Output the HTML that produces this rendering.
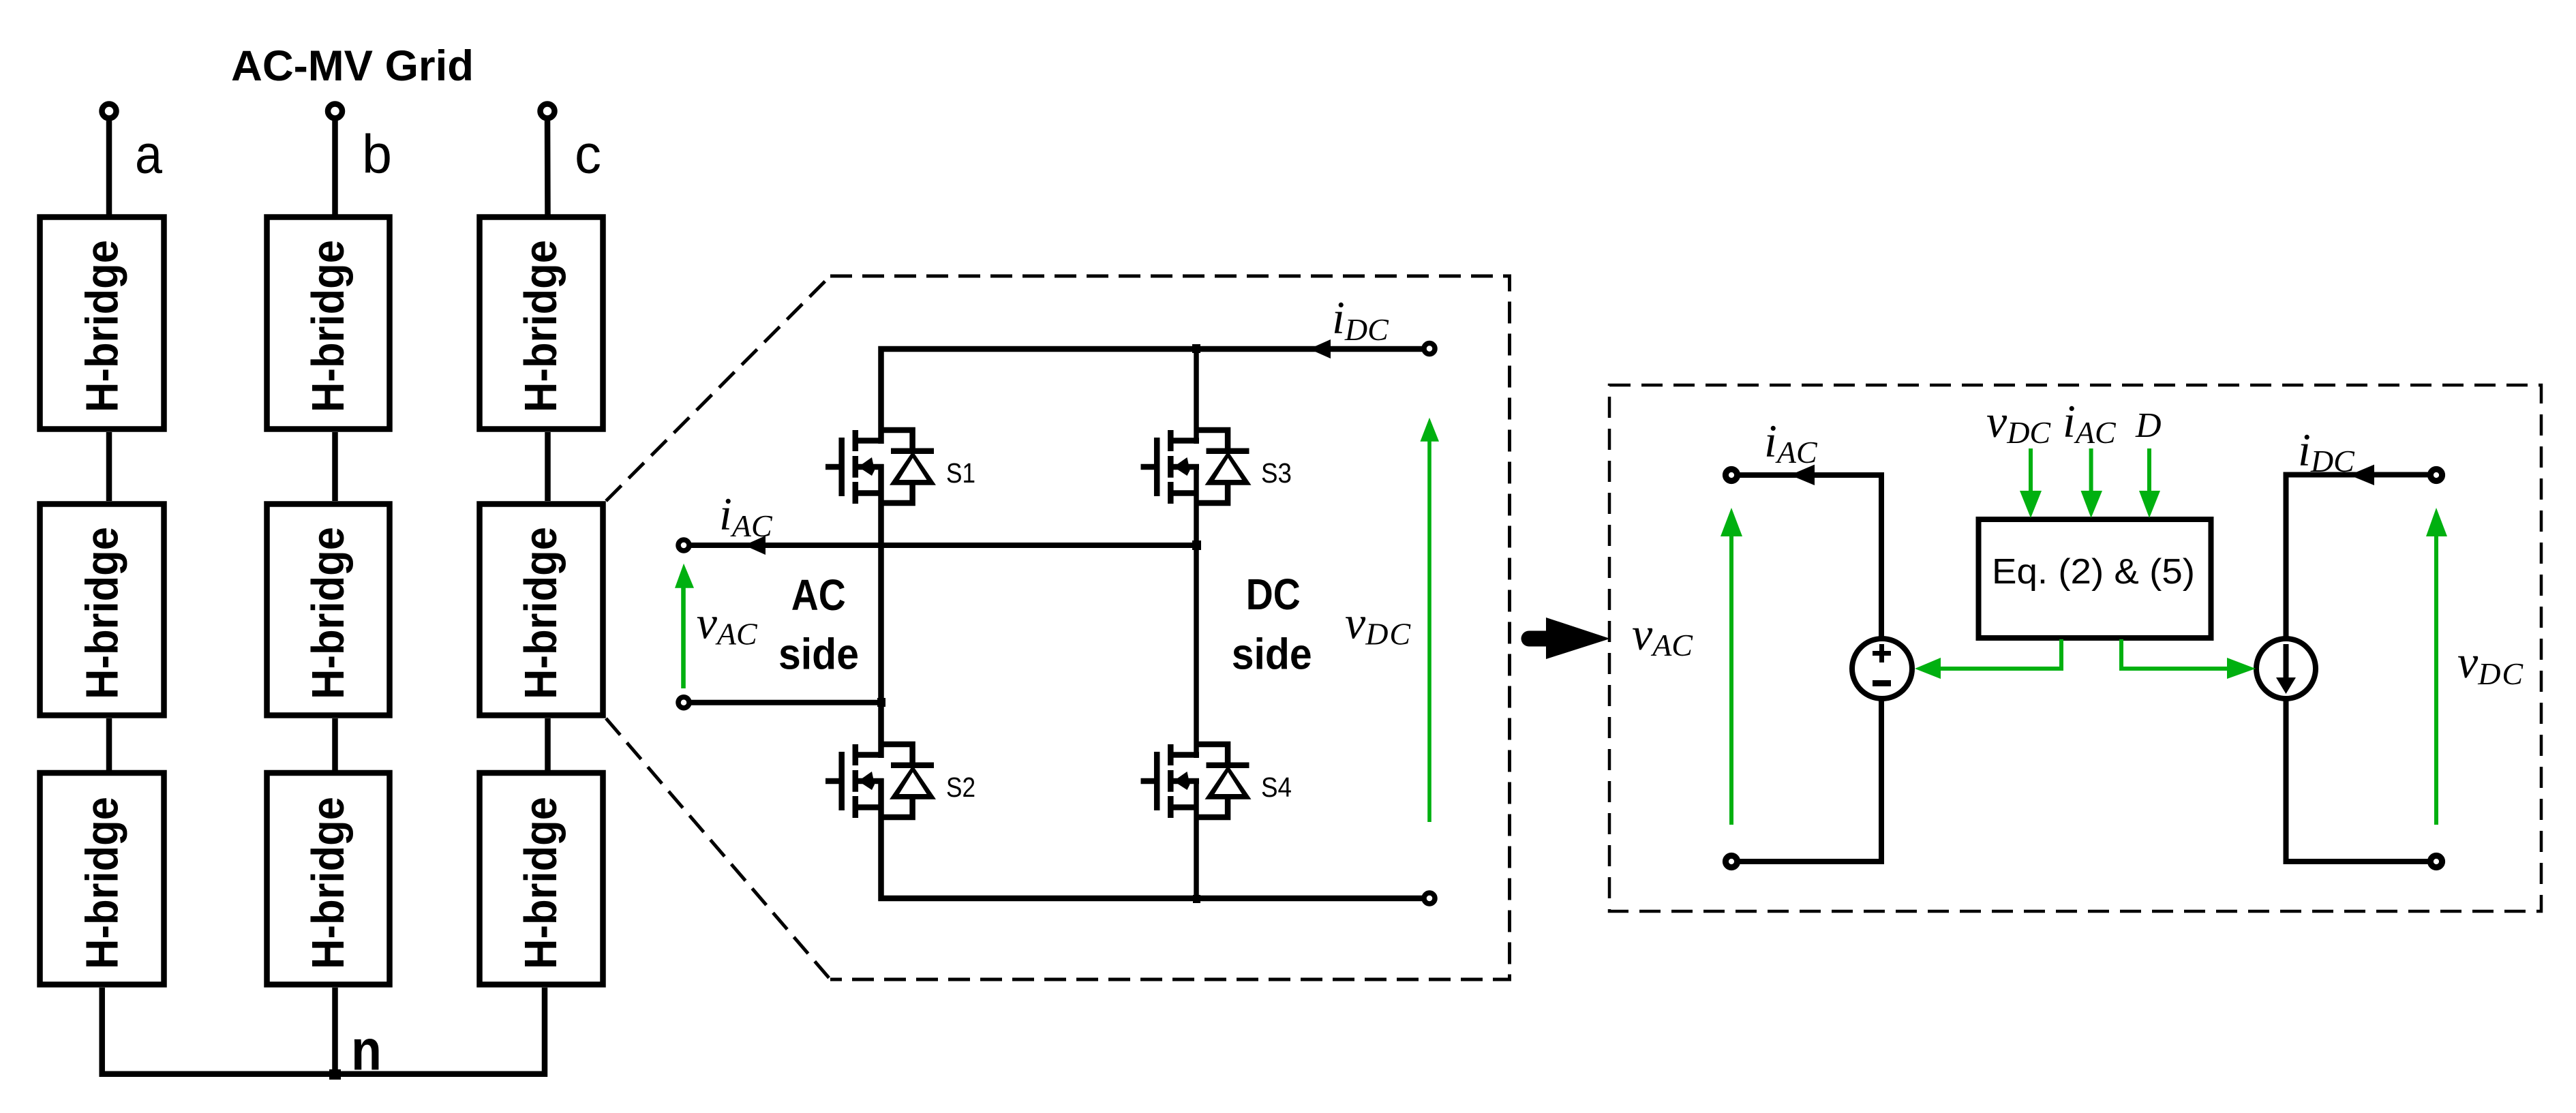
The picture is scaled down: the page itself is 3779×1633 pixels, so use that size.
<!DOCTYPE html>
<html>
<head>
<meta charset="utf-8">
<style>
html,body{margin:0;padding:0;background:#fff}
svg{display:block}
.s{font-family:"Liberation Sans",sans-serif}
.b{font-family:"Liberation Sans",sans-serif;font-weight:bold}
.m{font-family:"Liberation Serif",serif;font-style:italic;font-size:68px}
.m tspan{font-size:46px}
</style>
</head>
<body>
<svg xmlns="http://www.w3.org/2000/svg" width="3779" height="1633" viewBox="0 0 3779 1633">
<rect width="3779" height="1633" fill="#fff"/>
<defs>
<g id="mos" fill="none" stroke="#000" stroke-width="8.5">
  <path d="M1211 685H1231"/>
  <path d="M1234.7 642V728"/>
  <path d="M1254.8 631V662M1254.8 669V700.7M1254.8 707V739"/>
  <path d="M1259 646.5H1296.5M1259 685H1296.5M1259 723.5H1292"/>
  <path d="M1292.5 631H1338.6V660M1307 661.7H1370M1338.6 710V738H1292.5"/>
  <polygon points="1339,662 1305,711.7 1373,711.7" fill="#000" stroke="none"/>
  <polygon points="1339,672 1319,704 1359.5,704" fill="#fff" stroke="none"/>
  <polygon points="1259,685 1279,671 1283,690 1279,698" fill="#000" stroke="none"/>
</g>
</defs>

<!-- Left: H-bridge columns -->
<g fill="none" stroke="#000" stroke-width="8.5">
  <circle cx="160" cy="163" r="10.5"/><circle cx="491.5" cy="163" r="10.5"/><circle cx="803" cy="163" r="10.5"/>
  <path d="M160 173V318M491.5 173V318M803 173L803.5 318"/>
  <path d="M160 634V735M491.5 634V735M803.5 634V735"/>
  <path d="M160 1054V1130M491.5 1054V1130M803.5 1054V1130"/>
  <path d="M149.7 1449V1575.8H799V1449M491.5 1449V1575.8"/>
  <rect x="58.5" y="318.5" width="182" height="311"/>
  <rect x="391.5" y="318.5" width="180" height="311"/>
  <rect x="703.5" y="318.5" width="181" height="311"/>
  <rect x="58.5" y="739.5" width="182" height="310"/>
  <rect x="391.5" y="739.5" width="180" height="310"/>
  <rect x="703.5" y="739.5" width="181" height="310"/>
  <rect x="58.5" y="1134" width="182" height="310.5"/>
  <rect x="391.5" y="1134" width="180" height="310.5"/>
  <rect x="703.5" y="1134" width="181" height="310.5"/>
</g>
<rect x="483" y="1569" width="17" height="15" fill="#000"/>

<g class="b" font-size="67" fill="#000">
  <text transform="translate(172.7 478.5) rotate(-90)" x="-126.5" textLength="253" lengthAdjust="spacingAndGlyphs">H-bridge</text>
  <text transform="translate(504 478.5) rotate(-90)" x="-126.5" textLength="253" lengthAdjust="spacingAndGlyphs">H-bridge</text>
  <text transform="translate(816 478.5) rotate(-90)" x="-126.5" textLength="253" lengthAdjust="spacingAndGlyphs">H-bridge</text>
  <text transform="translate(172.7 899.5) rotate(-90)" x="-126.5" textLength="253" lengthAdjust="spacingAndGlyphs">H-bridge</text>
  <text transform="translate(504 899.5) rotate(-90)" x="-126.5" textLength="253" lengthAdjust="spacingAndGlyphs">H-bridge</text>
  <text transform="translate(816 899.5) rotate(-90)" x="-126.5" textLength="253" lengthAdjust="spacingAndGlyphs">H-bridge</text>
  <text transform="translate(172.7 1295.5) rotate(-90)" x="-126.5" textLength="253" lengthAdjust="spacingAndGlyphs">H-bridge</text>
  <text transform="translate(504 1295.5) rotate(-90)" x="-126.5" textLength="253" lengthAdjust="spacingAndGlyphs">H-bridge</text>
  <text transform="translate(816 1295.5) rotate(-90)" x="-126.5" textLength="253" lengthAdjust="spacingAndGlyphs">H-bridge</text>
</g>
<text class="b" x="339" y="118" font-size="63" textLength="356" lengthAdjust="spacingAndGlyphs">AC-MV Grid</text>
<text class="s" x="198" y="253.6" font-size="80" textLength="40" lengthAdjust="spacingAndGlyphs">a</text>
<text class="s" x="531" y="253.6" font-size="80" textLength="44" lengthAdjust="spacingAndGlyphs">b</text>
<text class="s" x="843" y="253.6" font-size="80" textLength="39" lengthAdjust="spacingAndGlyphs">c</text>
<text class="b" x="515" y="1569.4" font-size="84" textLength="45" lengthAdjust="spacingAndGlyphs">n</text>

<!-- Zoom dashed trapezoid -->
<g fill="none" stroke="#000" stroke-width="5" stroke-dasharray="32 15">
  <path d="M889 735L1218 405"/>
  <path d="M1218 405H2214.5V1437H1218"/>
  <path d="M889 1054L1218 1437"/>
</g>

<!-- Bridge wires -->
<g fill="none" stroke="#000">
  <path stroke-width="8.5" d="M1292.5 651V512H2097"/>
  <path stroke-width="8.5" d="M1292.5 681V1112M1292.5 1142V1318H2097"/>
  <path stroke-width="7.5" d="M1755 512V651M1755 681V1112M1755 1142V1318"/>
  <path stroke-width="8" d="M1003 800H1755M1003 1030.7H1293"/>
  <g stroke-width="7.5" fill="#fff">
    <circle cx="1003" cy="800" r="8"/>
    <circle cx="1003" cy="1030.7" r="8"/>
    <circle cx="2097" cy="511.5" r="8"/>
    <circle cx="2097" cy="1318" r="8"/>
  </g>
</g>
<g fill="#000">
  <rect x="1749" y="505" width="12" height="13"/>
  <rect x="1749" y="793" width="13" height="14"/>
  <rect x="1287" y="1024" width="12" height="13"/>
  <rect x="1750" y="1313" width="11" height="12"/>
  <polygon points="1091.6,800 1123,786 1123,814"/>
  <polygon points="1920.5,512 1952,498 1952,526"/>
</g>
<use href="#mos"/>
<use href="#mos" transform="translate(462.5 0)"/>
<use href="#mos" transform="translate(0 461)"/>
<use href="#mos" transform="translate(462.5 461)"/>
<g class="s" font-size="41" fill="#000">
  <text x="1388" y="708" textLength="43" lengthAdjust="spacingAndGlyphs">S1</text>
  <text x="1850" y="708" textLength="45" lengthAdjust="spacingAndGlyphs">S3</text>
  <text x="1388" y="1169" textLength="43" lengthAdjust="spacingAndGlyphs">S2</text>
  <text x="1850" y="1169" textLength="45" lengthAdjust="spacingAndGlyphs">S4</text>
</g>

<!-- Green voltage arrows in bridge -->
<g fill="#00b010" stroke="none">
  <rect x="999.2" y="860" width="6.6" height="150"/>
  <polygon points="1003,826.7 990,862.7 1018,862.7"/>
  <rect x="2094.2" y="645" width="5.6" height="561"/>
  <polygon points="2097,612.7 2083.5,647.7 2111,647.7"/>
</g>

<text class="b" x="1160.7" y="895" font-size="64" textLength="80" lengthAdjust="spacingAndGlyphs">AC</text>
<text class="b" x="1142" y="981.7" font-size="64" textLength="118" lengthAdjust="spacingAndGlyphs">side</text>
<text class="b" x="1827.7" y="894" font-size="64" textLength="80" lengthAdjust="spacingAndGlyphs">DC</text>
<text class="b" x="1806.7" y="981.7" font-size="64" textLength="118" lengthAdjust="spacingAndGlyphs">side</text>

<text class="m" x="1055" y="777">i<tspan dy="10">AC</tspan></text>
<text class="m" x="1954" y="489">i<tspan dy="10">DC</tspan></text>
<text class="m" x="1021.7" y="936.7">v<tspan dy="9">AC</tspan></text>
<text class="m" x="1973" y="936.7">v<tspan dy="9" letter-spacing="2">DC</tspan></text>

<!-- Big arrow -->
<path d="M2243 937H2272" stroke="#000" stroke-width="23" stroke-linecap="round" fill="none"/>
<polygon points="2268,906 2362,937 2268,967" fill="#000"/>

<!-- Right dashed box -->
<rect x="2361" y="565" width="1367" height="772" fill="none" stroke="#000" stroke-width="4.5" stroke-dasharray="31 16"/>

<!-- Averaged model -->
<g fill="none" stroke="#000" stroke-width="8">
  <path d="M2540 697H2760V937"/>
  <path d="M2540 1264H2760V1025"/>
  <circle cx="2761" cy="981" r="44"/>
  <path d="M3574 696.5H3353.5V937"/>
  <path d="M3574 1264H3353.5V1025"/>
  <ellipse cx="3353.5" cy="981" rx="43.5" ry="44"/>
  <path d="M3353.5 945V1000"/>
  <rect x="2902.5" y="762" width="341" height="174"/>
  <g stroke-width="9" fill="#fff">
    <circle cx="2540" cy="697" r="8.6"/>
    <circle cx="2540" cy="1264" r="8.6"/>
    <circle cx="3574" cy="697" r="8.6"/>
    <circle cx="3574" cy="1264" r="8.6"/>
  </g>
</g>
<g fill="#000">
  <polygon points="2626,697 2662,681.6 2662,712"/>
  <polygon points="3446.5,697 3483,681.6 3483,712"/>
  <rect x="2747" y="955" width="27" height="7"/>
  <rect x="2757" y="945" width="7" height="27"/>
  <rect x="2747" y="998" width="27" height="9"/>
  <polygon points="3353.5,1018 3339,994 3368,994"/>
</g>

<!-- Green control arrows -->
<g fill="none" stroke="#00b010" stroke-width="6">
  <path d="M2540 785V1210"/>
  <path d="M3574 785V1210"/>
  <path d="M2979 658V722"/>
  <path d="M3067.6 658V722"/>
  <path d="M3153 658V722"/>
  <path d="M3024 938V981H2845"/>
  <path d="M3112 938V981H3269"/>
</g>
<g fill="#00b010">
  <polygon points="2540,745 2524,787 2556,787"/>
  <polygon points="3574,745 3559,787 3590,787"/>
  <polygon points="2979,760 2963,720 2995,720"/>
  <polygon points="3067.6,760 3052.5,720 3084,720"/>
  <polygon points="3153,760 3138,720 3169,720"/>
  <polygon points="2809,981 2847,965 2847,996"/>
  <polygon points="3309,981 3267,965 3267,996"/>
</g>

<text class="s" x="2922" y="856" font-size="52" textLength="298" lengthAdjust="spacingAndGlyphs">Eq. (2) &amp; (5)</text>

<text class="m" x="2394" y="953">v<tspan dy="9">AC</tspan></text>
<text class="m" x="2588" y="670">i<tspan dy="9">AC</tspan></text>
<text class="m" x="2914" y="641">v<tspan dy="9">DC</tspan></text>
<text class="m" x="3026" y="641">i<tspan dy="9">AC</tspan></text>
<text class="m" x="3133" y="641" style="font-size:52px">D</text>
<text class="m" x="3371" y="683">i<tspan dy="9">DC</tspan></text>
<text class="m" x="3605" y="994">v<tspan dy="10" letter-spacing="2">DC</tspan></text>
</svg>
</body>
</html>
